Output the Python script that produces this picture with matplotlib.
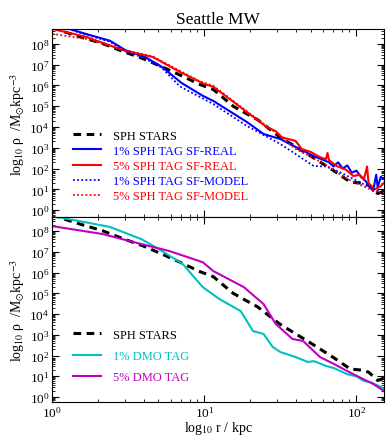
import numpy as np
import matplotlib
matplotlib.use("Agg")
import matplotlib.pyplot as plt
from matplotlib.ticker import LogLocator, NullFormatter

plt.rcParams["font.family"] = ["Liberation Serif", "DejaVu Serif"]
plt.rcParams["mathtext.fontset"] = "stix"

# radii in log10(r/kpc), densities in log10(rho / Msun kpc^-3)
sph_logr = [0, 0.07, 0.2, 0.33, 0.46, 0.6, 0.72, 0.84, 0.97, 1.06, 1.19, 1.28, 1.35,
            1.5, 1.6, 1.7, 1.85, 1.96, 2.03, 2.08, 2.14, 2.18]
sph_rho = [8.8, 8.6, 8.3, 8.02, 7.65, 7.28, 6.9, 6.5, 6.05, 5.8, 5.0, 4.63, 4.35,
           3.5, 3.05, 2.6, 1.9, 1.35, 1.3, 1.2, 0.8, 0.9]

red_real_logr = [0, 0.22, 0.48, 0.66, 0.84, 0.99, 1.06, 1.28, 1.41, 1.47, 1.51, 1.6,
                 1.64, 1.7, 1.76, 1.8, 1.81, 1.82, 1.87, 1.93, 1.98, 2.02, 2.05, 2.07,
                 2.08, 2.12, 2.16, 2.18]
red_real_rho = [8.72, 8.34, 7.66, 7.37, 6.65, 6.1, 5.93, 4.72, 4.0, 3.8, 3.5, 3.33,
                2.94, 2.8, 2.55, 2.45, 2.75, 2.4, 2.12, 1.95, 1.64, 1.7, 1.5, 2.1,
                1.3, 1.0, 1.15, 1.3]

blue_real_logr = [0, 0.066, 0.22, 0.38, 0.48, 0.61, 0.72, 0.85, 0.99, 1.06, 1.28, 1.39,
                  1.5, 1.6, 1.72, 1.82, 1.85, 1.88, 1.91, 1.94, 1.97, 2.0, 2.03, 2.06,
                  2.11, 2.13, 2.14, 2.16, 2.18]
blue_real_rho = [9.0, 8.82, 8.48, 8.15, 7.7, 7.37, 6.9, 6.12, 5.5, 5.25, 4.24, 3.66,
                 3.42, 3.04, 2.6, 2.3, 2.1, 2.3, 2.0, 2.15, 1.8, 1.9, 1.6, 1.4,
                 0.92, 1.7, 1.1, 1.6, 1.5]

blue_model_logr = [0, 0.066, 0.22, 0.38, 0.48, 0.61, 0.72, 0.84, 1.06, 1.28, 1.5, 1.6,
                   1.72, 1.8, 1.89, 1.98, 2.07, 2.16]
blue_model_rho = [9.0, 8.8, 8.45, 8.1, 7.65, 7.3, 6.85, 5.95, 5.1, 4.05, 3.18, 2.7,
                  2.12, 2.1, 1.83, 1.5, 1.16, 0.85]

red_model_logr = [0, 0.22, 0.48, 0.66, 0.84, 0.97, 1.06, 1.28, 1.5, 1.6, 1.77, 1.94,
                  2.09, 2.16]
red_model_rho = [8.48, 8.24, 7.7, 7.4, 6.7, 6.2, 5.98, 4.75, 3.56, 2.94, 2.3, 1.5,
                 1.0, 0.85]

cyan_logr = [0, 0.18, 0.38, 0.59, 0.72, 0.86, 0.99, 1.1, 1.24, 1.28, 1.32, 1.39, 1.45,
             1.5, 1.6, 1.68, 1.72, 1.8, 1.85, 1.94, 2.0, 2.05, 2.1, 2.16, 2.18]
cyan_rho = [8.72, 8.48, 8.2, 7.6, 7.05, 6.4, 5.3, 4.72, 4.14, 3.66, 3.18, 3.04, 2.41,
            2.17, 1.93, 1.69, 1.73, 1.5, 1.4, 1.1, 1.0, 0.77, 0.7, 0.48, 0.4]

mag_logr = [0, 0.33, 0.59, 0.77, 0.99, 1.06, 1.26, 1.39, 1.47, 1.58, 1.65, 1.76, 1.85,
            1.98, 2.11, 2.18]
mag_rho = [8.24, 7.86, 7.37, 7.04, 6.5, 6.07, 5.3, 4.48, 3.52, 2.8, 2.7, 1.93, 1.6,
           1.1, 0.63, 0.3]

def r(lr):
    return 10 ** np.asarray(lr)

fig = plt.figure(figsize=(3.86, 4.39), dpi=100)
ax1 = fig.add_axes([0.135, 0.503, 0.86, 0.429])
ax2 = fig.add_axes([0.135, 0.082, 0.86, 0.421], sharex=ax1)

dash = dict(color="black", lw=2.2, ls=(0, (2.5, 1.8)))

ax1.plot(r(sph_logr), r(sph_rho), label="SPH STARS", **dash)
ax1.plot(r(blue_real_logr), r(blue_real_rho), color="#0000ff", lw=1.5, label="1% SPH TAG SF-REAL")
ax1.plot(r(red_real_logr), r(red_real_rho), color="#ff0000", lw=1.5, label="5% SPH TAG SF-REAL")
ax1.plot(r(blue_model_logr), r(blue_model_rho), color="#0000ff", lw=1.3, ls=(0, (1, 1.3)),
         label="1% SPH TAG SF-MODEL")
ax1.plot(r(red_model_logr), r(red_model_rho), color="#ff0000", lw=1.3, ls=(0, (1, 1.3)),
         label="5% SPH TAG SF-MODEL")

ax2.plot(r(sph_logr), r(sph_rho), label="SPH STARS", **dash)
ax2.plot(r(cyan_logr), r(cyan_rho), color="#00c0c0", lw=1.5, label="1% DMO TAG")
ax2.plot(r(mag_logr), r(mag_rho), color="#c000c0", lw=1.5, label="5% DMO TAG")

ylab = r"log$_{10}$ ρ  /M$_{\odot}$kpc$^{-3}$"
for ax, lo, hi in [(ax1, -0.34, 8.72), (ax2, -0.24, 8.67)]:
    ax.set_xscale("log")
    ax.set_yscale("log")
    ax.set_xlim(1, 152)
    ax.set_ylim(10 ** lo, 10 ** hi)
    ax.yaxis.set_major_locator(LogLocator(base=10, numticks=20))
    ax.yaxis.set_minor_locator(LogLocator(base=10, subs=np.arange(2, 10), numticks=20))
    ax.yaxis.set_minor_formatter(NullFormatter())
    ax.tick_params(which="both", direction="in", top=True, right=True, labelsize=9.5, pad=2)
    ax.tick_params(which="major", length=5, width=0.8)
    ax.tick_params(which="minor", length=2.5, width=0.6)
    ax.set_ylabel(ylab, fontsize=10, labelpad=2)

ax1.tick_params(labelbottom=False)
ax2.set_xlabel(r"log$_{10}$ r / kpc", fontsize=10, labelpad=0)
ax1.set_title("Seattle MW", fontsize=12.5, pad=4)

ax1.legend(loc="lower left", bbox_to_anchor=(0.03, 0.02), frameon=False, fontsize=9,
           handlelength=2.2, handletextpad=1.0, labelspacing=0.25, labelcolor="linecolor")
ax2.legend(loc="lower left", bbox_to_anchor=(0.03, 0.04), frameon=False, fontsize=9,
           handlelength=2.2, handletextpad=1.0, labelspacing=0.75, labelcolor="linecolor")

fig.savefig("out.png", dpi=100)
